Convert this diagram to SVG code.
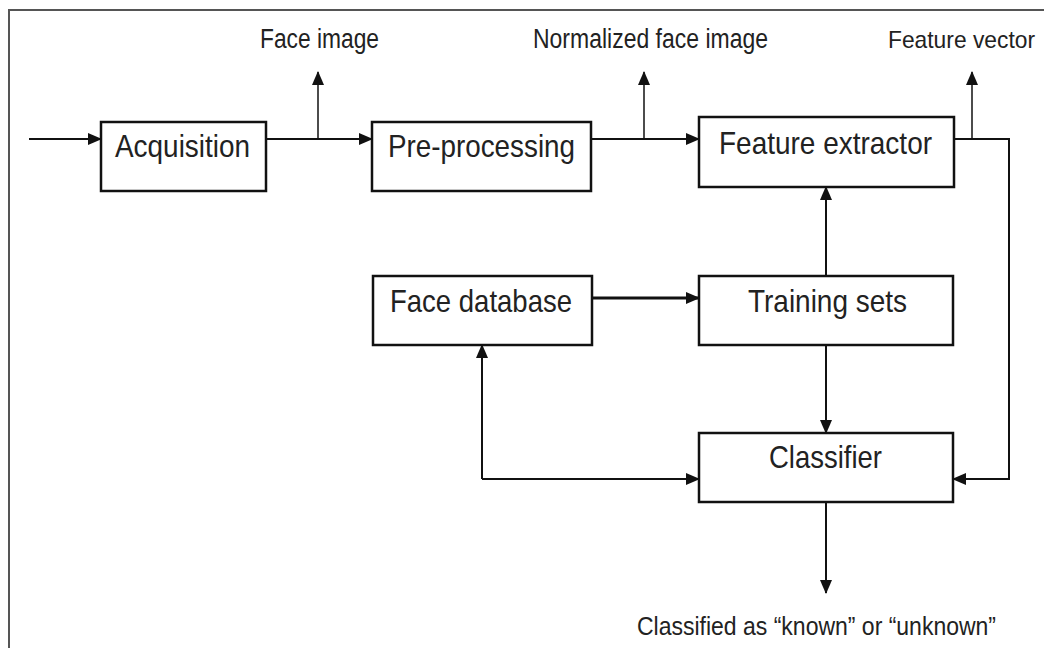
<svg xmlns="http://www.w3.org/2000/svg" width="1044" height="648" viewBox="0 0 1044 648">
<style>
.box{fill:#fff;stroke:#111;stroke-width:2.5}
.lbl{font-family:"Liberation Sans",Arial,sans-serif;font-size:32px;fill:#222}
.sm{font-family:"Liberation Sans",Arial,sans-serif;font-size:27px;fill:#222}
.ln{fill:none;stroke:#111;stroke-width:2}
.thin{fill:none;stroke:#111;stroke-width:1.5}
.thick{fill:none;stroke:#111;stroke-width:3}
</style>
<defs>
<marker id="ah" markerUnits="userSpaceOnUse" markerWidth="14" markerHeight="14" viewBox="0 0 14 14" refX="13" refY="7" orient="auto">
<path d="M0,1 L14,7 L0,13 Z" fill="#111"/>
</marker>
</defs>
<rect width="1044" height="648" fill="#fff"/>
<g id="frame">
<path d="M9,648 L9,10 L1044,10" fill="none" stroke="#555" stroke-width="2"/>
</g>
<g id="acquisition">
<rect class="box" x="101" y="122" width="165" height="69"/>
<text class="lbl" x="115" y="157" textLength="135" lengthAdjust="spacingAndGlyphs">Acquisition</text>
</g>
<g id="preprocessing">
<rect class="box" x="372" y="122" width="219" height="69"/>
<text class="lbl" x="388" y="157" textLength="187" lengthAdjust="spacingAndGlyphs">Pre-processing</text>
</g>
<g id="feature-extractor">
<rect class="box" x="699" y="117" width="255" height="70"/>
<text class="lbl" x="719" y="154" textLength="213" lengthAdjust="spacingAndGlyphs">Feature extractor</text>
</g>
<g id="face-database">
<rect class="box" x="373" y="276" width="219" height="69"/>
<text class="lbl" x="390" y="312" textLength="182" lengthAdjust="spacingAndGlyphs">Face database</text>
</g>
<g id="training-sets">
<rect class="box" x="699" y="276" width="254" height="69"/>
<text class="lbl" x="748" y="312" textLength="159" lengthAdjust="spacingAndGlyphs">Training sets</text>
</g>
<g id="classifier">
<rect class="box" x="699" y="433" width="254" height="69"/>
<text class="lbl" x="769" y="468" textLength="113" lengthAdjust="spacingAndGlyphs">Classifier</text>
</g>
<g id="labels">
<text class="sm" x="260" y="48" textLength="119" lengthAdjust="spacingAndGlyphs">Face image</text>
<text class="sm" x="533" y="48" textLength="235" lengthAdjust="spacingAndGlyphs">Normalized face image</text>
<text class="sm" x="888" y="48" style="font-size:24px" textLength="147" lengthAdjust="spacingAndGlyphs">Feature vector</text>
<text class="sm" x="637" y="635" style="font-size:25px" textLength="359" lengthAdjust="spacingAndGlyphs">Classified as “known” or “unknown”</text>
</g>
<g id="connectors">
<line class="ln" x1="29" y1="139" x2="101" y2="139" marker-end="url(#ah)"/>
<line class="ln" x1="266" y1="139" x2="372" y2="139" marker-end="url(#ah)"/>
<line class="thin" x1="318" y1="139" x2="318" y2="72" marker-end="url(#ah)"/>
<line class="ln" x1="591" y1="139" x2="699" y2="139" marker-end="url(#ah)"/>
<line class="thin" x1="644" y1="139" x2="644" y2="72" marker-end="url(#ah)"/>
<line class="thin" x1="972" y1="139" x2="972" y2="72" marker-end="url(#ah)"/>
<path class="ln" d="M954,139 L1009,139 L1009,479 L953,479" marker-end="url(#ah)"/>
<line class="ln" x1="826" y1="276" x2="826" y2="187" marker-end="url(#ah)"/>
<line class="thick" x1="592" y1="298" x2="699" y2="298" marker-end="url(#ah)"/>
<line class="ln" x1="826" y1="345" x2="826" y2="433" marker-end="url(#ah)"/>
<line class="ln" x1="482" y1="479" x2="482" y2="345" marker-end="url(#ah)"/>
<line class="ln" x1="482" y1="479" x2="699" y2="479" marker-end="url(#ah)"/>
<line class="ln" x1="826" y1="502" x2="826" y2="593" marker-end="url(#ah)"/>
</g>
</svg>
